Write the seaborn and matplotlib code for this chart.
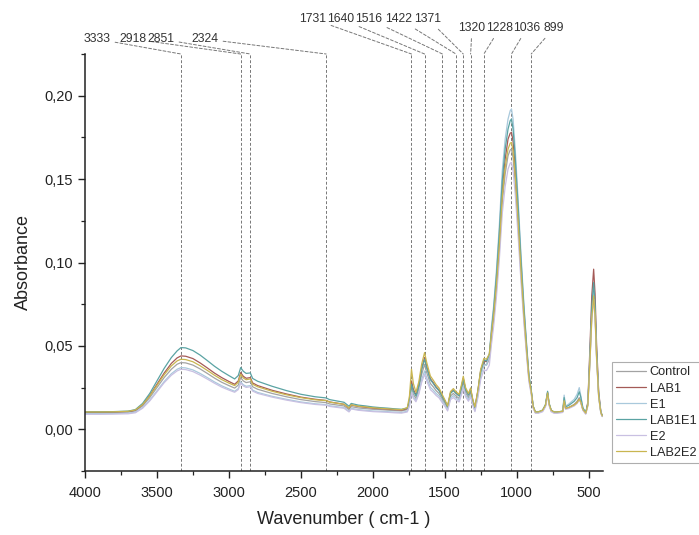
import numpy as np
import pandas as pd
import matplotlib
matplotlib.use("Agg")
import matplotlib.pyplot as plt
from matplotlib.ticker import MultipleLocator, FuncFormatter
import seaborn as sns

# ---------------- data ----------------
wavenumber = [4000, 3900, 3800, 3700, 3650, 3600, 3550, 3500, 3450, 3400, 3360, 3333, 3300, 3250,
              3200, 3150, 3100, 3050, 3000, 2960, 2935, 2918, 2900, 2880, 2851, 2835, 2800, 2700,
              2600, 2500, 2400, 2324, 2300, 2200, 2165, 2150, 2100, 2050, 2000, 1950, 1900, 1850,
              1800, 1760, 1745, 1731, 1718, 1700, 1680, 1660, 1640, 1625, 1600, 1580, 1560, 1540,
              1516, 1495, 1480, 1460, 1440, 1422, 1400, 1385, 1371, 1355, 1335, 1320, 1305, 1290,
              1270, 1250, 1228, 1210, 1190, 1175, 1160, 1140, 1120, 1100, 1080, 1060, 1045, 1036,
              1025, 1010, 990, 970, 950, 930, 915, 899, 885, 870, 850, 820, 800, 785, 775, 760,
              740, 720, 700, 680, 670, 660, 640, 620, 600, 580, 565, 555, 540, 520, 505, 490,
              478, 465, 455, 445, 430, 415, 405]

control = [.0100, .0100, .0101, .0103, .0110, .0140, .0190, .0250, .0310, .0360, .0390, .0400, .0398, .0385,
           .0362, .0335, .0307, .0282, .0262, .0247, .0265, .0310, .0290, .0280, .0285, .0255, .0240, .0215,
           .0195, .0178, .0166, .0160, .0152, .0140, .0118, .0136, .0128, .0124, .0120, .0118, .0115, .0112,
           .0110, .0118, .0160, .0250, .0210, .0185, .0240, .0330, .0390, .0340, .0275, .0255, .0232, .0215,
           .0180, .0150, .0125, .0200, .0215, .0200, .0185, .0230, .0280, .0220, .0190, .0220, .0160, .0120,
           .0210, .0330, .0390, .0385, .0420, .0550, .0660, .0850, .1080, .1360, .1530, .1640, .1675, .1680,
           .1630, .1480, .1220, .0930, .0670, .0450, .0300, .0220, .0130, .0100, .0100, .0110, .0140, .0215,
           .0150, .0110, .0100, .0100, .0102, .0105, .0175, .0125, .0130, .0140, .0150, .0168, .0190, .0172,
           .0120, .0095, .0150, .0440, .0690, .0830, .0700, .0450, .0200, .0100, .0080]

lab1 = [.0102, .0102, .0103, .0106, .0114, .0148, .0203, .0270, .0337, .0395, .0428, .0440, .0438, .0424,
        .0398, .0368, .0337, .0310, .0287, .0270, .0290, .0340, .0318, .0306, .0310, .0278, .0262, .0234,
        .0212, .0193, .0180, .0173, .0164, .0150, .0127, .0146, .0137, .0132, .0127, .0124, .0121, .0118,
        .0115, .0124, .0175, .0290, .0240, .0205, .0265, .0365, .0430, .0375, .0303, .0280, .0254, .0236,
        .0197, .0164, .0136, .0218, .0235, .0218, .0202, .0252, .0306, .0240, .0207, .0240, .0174, .0130,
        .0228, .0352, .0410, .0405, .0440, .0575, .0695, .0895, .1140, .1440, .1620, .1740, .1775, .1780,
        .1725, .1565, .1290, .0985, .0710, .0475, .0315, .0230, .0135, .0102, .0102, .0112, .0143, .0220,
        .0153, .0112, .0102, .0102, .0104, .0107, .0172, .0124, .0128, .0136, .0145, .0160, .0180, .0165,
        .0118, .0096, .0165, .0510, .0800, .0960, .0810, .0520, .0225, .0105, .0080]

e1 = [.0094, .0094, .0095, .0097, .0103, .0130, .0175, .0230, .0286, .0333, .0360, .0370, .0368, .0356,
      .0335, .0310, .0284, .0261, .0242, .0228, .0244, .0285, .0267, .0258, .0262, .0235, .0221, .0198,
      .0180, .0164, .0153, .0148, .0141, .0130, .0108, .0126, .0118, .0114, .0110, .0108, .0106, .0103,
      .0101, .0108, .0145, .0230, .0194, .0172, .0220, .0298, .0350, .0308, .0252, .0235, .0215, .0200,
      .0168, .0140, .0116, .0188, .0202, .0188, .0174, .0215, .0262, .0206, .0178, .0206, .0150, .0112,
      .0200, .0320, .0385, .0385, .0440, .0620, .0740, .0960, .1230, .1550, .1740, .1860, .1910, .1920,
      .1860, .1680, .1380, .1050, .0755, .0500, .0330, .0238, .0138, .0100, .0100, .0110, .0140, .0222,
      .0155, .0110, .0100, .0100, .0103, .0108, .0205, .0140, .0150, .0165, .0180, .0210, .0250, .0205,
      .0128, .0096, .0150, .0435, .0685, .0820, .0692, .0445, .0198, .0098, .0078]

lab1e1 = [.0105, .0105, .0106, .0109, .0118, .0155, .0215, .0290, .0365, .0430, .0470, .0490, .0488, .0472,
          .0445, .0412, .0378, .0348, .0322, .0302, .0322, .0370, .0348, .0335, .0338, .0305, .0288, .0258,
          .0232, .0210, .0195, .0188, .0178, .0162, .0138, .0155, .0145, .0140, .0134, .0130, .0127, .0123,
          .0120, .0128, .0172, .0270, .0228, .0200, .0260, .0360, .0420, .0368, .0298, .0275, .0250, .0232,
          .0195, .0162, .0135, .0215, .0232, .0215, .0200, .0248, .0300, .0238, .0205, .0238, .0172, .0128,
          .0225, .0350, .0415, .0410, .0450, .0590, .0720, .0930, .1190, .1490, .1680, .1800, .1850, .1860,
          .1800, .1630, .1340, .1020, .0735, .0490, .0325, .0235, .0138, .0105, .0105, .0115, .0148, .0228,
          .0158, .0115, .0104, .0104, .0106, .0110, .0190, .0135, .0142, .0155, .0168, .0190, .0225, .0195,
          .0130, .0100, .0158, .0470, .0735, .0880, .0745, .0478, .0212, .0105, .0082]

e2 = [.0090, .0090, .0091, .0093, .0099, .0126, .0170, .0224, .0279, .0324, .0350, .0360, .0358, .0346,
      .0325, .0301, .0276, .0253, .0235, .0222, .0238, .0278, .0260, .0251, .0255, .0229, .0215, .0193,
      .0175, .0160, .0149, .0144, .0137, .0126, .0104, .0122, .0114, .0110, .0106, .0104, .0102, .0099,
      .0097, .0104, .0140, .0220, .0186, .0165, .0210, .0282, .0330, .0290, .0238, .0222, .0203, .0189,
      .0158, .0132, .0110, .0178, .0190, .0177, .0164, .0203, .0246, .0194, .0168, .0194, .0142, .0106,
      .0188, .0298, .0355, .0352, .0385, .0510, .0618, .0800, .1025, .1295, .1455, .1560, .1595, .1600,
      .1550, .1410, .1160, .0885, .0640, .0430, .0287, .0210, .0125, .0096, .0096, .0105, .0134, .0205,
      .0143, .0105, .0096, .0096, .0098, .0101, .0165, .0120, .0124, .0132, .0140, .0155, .0175, .0160,
      .0114, .0090, .0140, .0415, .0650, .0780, .0660, .0425, .0190, .0095, .0076]

lab2e2 = [.0104, .0104, .0105, .0108, .0116, .0148, .0200, .0263, .0327, .0380, .0410, .0420, .0418, .0405,
          .0381, .0353, .0324, .0298, .0277, .0262, .0282, .0330, .0308, .0297, .0302, .0270, .0255, .0228,
          .0207, .0190, .0177, .0172, .0163, .0150, .0128, .0147, .0138, .0134, .0129, .0126, .0123, .0120,
          .0118, .0130, .0200, .0360, .0275, .0222, .0285, .0392, .0460, .0400, .0320, .0295, .0268, .0248,
          .0206, .0170, .0140, .0226, .0244, .0226, .0210, .0262, .0318, .0250, .0215, .0248, .0180, .0134,
          .0232, .0360, .0425, .0420, .0452, .0575, .0685, .0875, .1110, .1395, .1570, .1680, .1715, .1720,
          .1668, .1515, .1250, .0955, .0690, .0465, .0310, .0228, .0136, .0104, .0104, .0114, .0144, .0218,
          .0154, .0114, .0104, .0104, .0106, .0108, .0172, .0126, .0130, .0138, .0146, .0160, .0180, .0166,
          .0120, .0097, .0145, .0425, .0665, .0800, .0678, .0438, .0196, .0100, .0080]

series_names = ["Control", "LAB1", "E1", "LAB1E1", "E2", "LAB2E2"]
series_values = [control, lab1, e1, lab1e1, e2, lab2e2]

peak_positions = [3333, 2918, 2851, 2324, 1731, 1640, 1516, 1422, 1371, 1320, 1228, 1036, 899]
peak_labels = [str(p) for p in peak_positions]

# ---------------- styling / layout ----------------
palette = {"Control": "#a3a3a3", "LAB1": "#a45a57", "E1": "#a9c9dc",
           "LAB1E1": "#5aa3a3", "E2": "#c9c0e2", "LAB2E2": "#c9b650"}
# label centres in figure pixels measured from top
label_x_px = [97, 133, 161, 205, 313, 341, 369, 399, 428, 472, 500, 527, 554]
label_y_px = [39, 39, 39, 39, 19, 19, 19, 19, 19, 28, 28, 28, 28]

sns.set_theme(style="ticks")
plt.rcParams["font.family"] = ["Liberation Sans", "DejaVu Sans"]

W, H = 699, 535
fig = plt.figure(figsize=(W / 100, H / 100), dpi=100)
ax = fig.add_axes([85 / W, (H - 471) / H, (603 - 85) / W, (471 - 54) / H])

frames = []
for name, vals in zip(series_names, series_values):
    frames.append(pd.DataFrame({"Wavenumber": wavenumber, "Absorbance": vals, "Sample": name}))
df = pd.concat(frames, ignore_index=True)

sns.lineplot(data=df, x="Wavenumber", y="Absorbance", hue="Sample", hue_order=series_names,
             palette=palette, linewidth=0.9, sort=False, estimator=None, ax=ax)

ax.set_xlim(4000, 400)
ax.set_ylim(-0.025, 0.225)
ax.xaxis.set_major_locator(MultipleLocator(500))
ax.xaxis.set_minor_locator(MultipleLocator(250))
ax.yaxis.set_major_locator(MultipleLocator(0.05))
ax.yaxis.set_minor_locator(MultipleLocator(0.025))
ax.yaxis.set_major_formatter(FuncFormatter(lambda v, p: f"{v:.2f}".replace(".", ",")))
ax.xaxis.set_major_formatter(FuncFormatter(lambda v, p: f"{int(round(v))}"))

for s in ["top", "right"]:
    ax.spines[s].set_visible(False)
for s in ["left", "bottom"]:
    ax.spines[s].set_color("#222222")
    ax.spines[s].set_linewidth(1.1)
ax.tick_params(axis="both", which="major", direction="out", length=5, width=1.0,
               color="#222222", labelsize=10.5, labelcolor="#222222")
ax.tick_params(axis="both", which="minor", direction="out", length=3, width=0.9, color="#222222")
ax.tick_params(axis="x", pad=6)

ax.set_xlabel("Wavenumber ( cm-1 )", fontsize=13, color="#222222", labelpad=8)
ax.set_ylabel("Absorbance", fontsize=13, color="#222222", labelpad=9)

# vertical peak markers and labels
for p, lab, lx, ly in zip(peak_positions, peak_labels, label_x_px, label_y_px):
    ax.axvline(p, color="#777777", linewidth=0.7, linestyle=(0, (3, 2)), zorder=1)
    ax.annotate(lab, xy=(p, 1.0), xycoords=("data", "axes fraction"),
                xytext=(lx, H - ly), textcoords="figure pixels",
                ha="center", va="center", fontsize=8.8, color="#333333",
                arrowprops=dict(arrowstyle="-", color="#777777", linewidth=0.7,
                                linestyle=(0, (3, 2)), shrinkA=1, shrinkB=0),
                annotation_clip=False)

leg = ax.legend(loc="upper left", bbox_to_anchor=(612 / W, (H - 362) / H),
                bbox_transform=fig.transFigure, fontsize=9.2, frameon=True, fancybox=False,
                handlelength=2.3, handletextpad=0.3, labelspacing=0.32, borderpad=0.35,
                borderaxespad=0, title=None)
leg.get_frame().set_edgecolor("#9a9a9a")
leg.get_frame().set_linewidth(0.8)
for line in leg.get_lines():
    line.set_linewidth(0.9)

fig.savefig("out.png", dpi=100)
